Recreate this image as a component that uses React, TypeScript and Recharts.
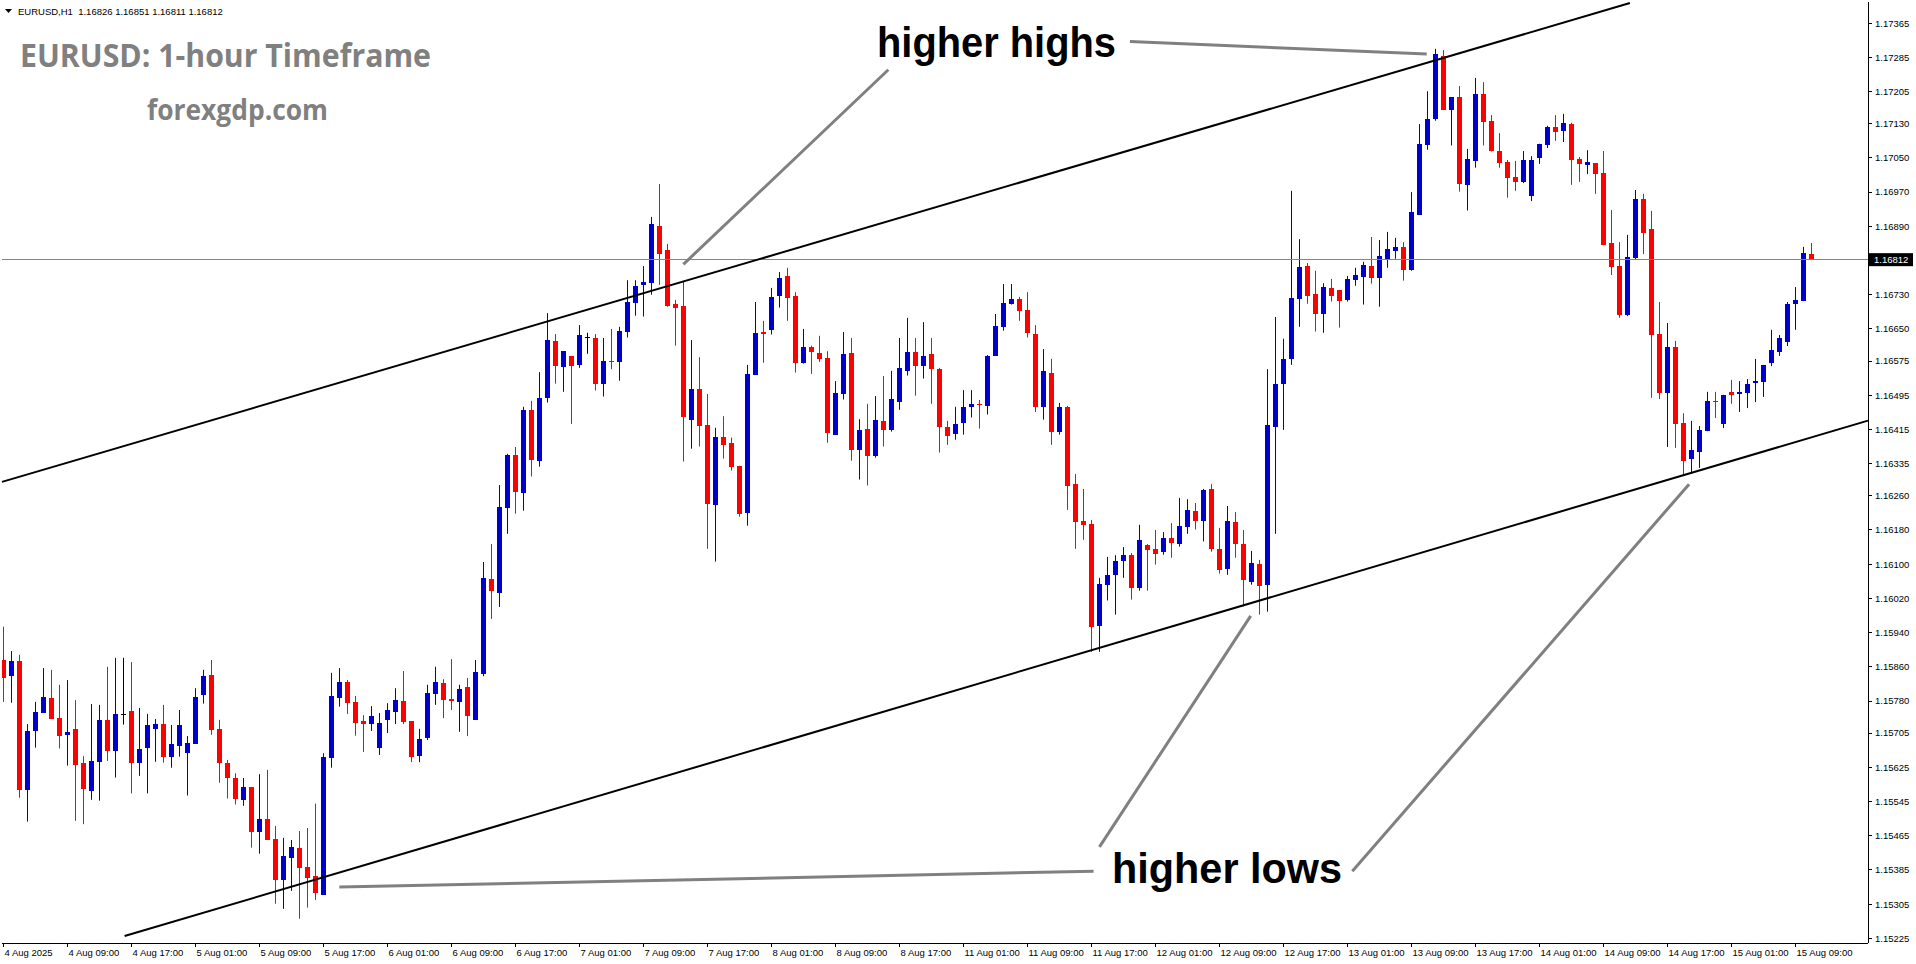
import React from 'react';
import { ComposedChart, Bar, XAxis, YAxis, ReferenceLine } from 'recharts';

// ---- data (EURUSD H1, 4 Aug 01:00 .. 15 Aug 11:00) ----
const opens = [
1.15876,1.15839,1.15874,1.15572,1.15711,1.15753,1.15787,1.15740,1.15701,1.15715,
1.15634,1.15570,1.15638,1.15736,1.15664,1.15749,1.15757,1.15636,1.15669,1.15715,
1.15726,1.15650,1.15676,1.15659,1.15680,1.15795,1.15841,1.15715,1.15635,1.15600,
1.15549,1.15579,1.15474,1.15504,1.15457,1.15362,1.15414,1.15436,1.15392,1.15371,
1.15327,1.15647,1.15788,1.15824,1.15778,1.15733,1.15726,1.15670,1.15736,1.15754,
1.15780,1.15733,1.15651,1.15694,1.15796,1.15822,1.15785,1.15778,1.15813,1.15736,
1.15843,1.16065,1.16033,1.16232,1.16355,1.16267,1.16460,1.16342,1.16489,1.16622,
1.16562,1.16587,1.16566,1.16632,1.16629,1.16522,1.16575,1.16573,1.16644,1.16711,
1.16753,1.16758,1.16891,1.16835,1.16708,1.16704,1.16438,1.16510,1.16425,1.16239,
1.16398,1.16383,1.16330,1.16220,1.16543,1.16643,1.16648,1.16728,1.16774,1.16727,
1.16571,1.16608,1.16594,1.16582,1.16403,1.16499,1.16594,1.16368,1.16416,1.16354,
1.16435,1.16414,1.16480,1.16552,1.16596,1.16564,1.16591,1.16557,1.16421,1.16405,
1.16431,1.16468,1.16475,1.16471,1.16587,1.16655,1.16709,1.16720,1.16694,1.16638,
1.16468,1.16547,1.16410,1.16468,1.16287,1.16201,1.16194,1.15956,1.16052,1.16075,
1.16108,1.16121,1.16045,1.16145,1.16135,1.16129,1.16161,1.16148,1.16188,1.16224,
1.16202,1.16276,1.16135,1.16089,1.16199,1.16147,1.16059,1.16100,1.16052,1.16421,
1.16522,1.16580,1.16721,1.16797,1.16732,1.16686,1.16746,1.16741,1.16718,1.16765,
1.16772,1.16797,1.16768,1.16814,1.16833,1.16842,1.16789,1.16917,1.17079,1.17140,
1.17288,1.17163,1.17192,1.16987,1.17043,1.17199,1.17136,1.17066,1.17040,1.17005,
1.16994,1.16961,1.17050,1.17080,1.17122,1.17113,1.17129,1.17047,1.17033,1.17038,
1.17015,1.16851,1.16797,1.16683,1.16816,1.16954,1.16884,1.16638,1.16500,1.16608,
1.16430,1.16346,1.16362,1.16411,1.16482,1.16428,1.16503,1.16498,1.16500,1.16524,
1.16526,1.16570,1.16596,1.16620,1.16708,1.16715,1.16826];

const highs = [
1.15954,1.15897,1.15888,1.15726,1.15778,1.15857,1.15853,1.15818,1.15829,1.15782,
1.15651,1.15773,1.15771,1.15860,1.15881,1.15881,1.15871,1.15764,1.15750,1.15738,
1.15771,1.15724,1.15759,1.15698,1.15810,1.15853,1.15876,1.15736,1.15642,1.15611,
1.15600,1.15579,1.15609,1.15619,1.15488,1.15460,1.15455,1.15476,1.15483,1.15540,
1.15658,1.15846,1.15857,1.15829,1.15792,1.15747,1.15768,1.15752,1.15775,1.15810,
1.15850,1.15733,1.15715,1.15818,1.15860,1.15831,1.15878,1.15818,1.15834,1.15876,
1.16105,1.16147,1.16285,1.16358,1.16374,1.16468,1.16482,1.16549,1.16687,1.16638,
1.16598,1.16587,1.16659,1.16641,1.16638,1.16629,1.16650,1.16655,1.16764,1.16764,
1.16797,1.16912,1.16989,1.16849,1.16718,1.16762,1.16624,1.16584,1.16498,1.16419,
1.16446,1.16396,1.16330,1.16566,1.16713,1.16669,1.16746,1.16783,1.16793,1.16736,
1.16650,1.16611,1.16634,1.16598,1.16528,1.16643,1.16629,1.16439,1.16475,1.16493,
1.16540,1.16552,1.16629,1.16676,1.16629,1.16666,1.16629,1.16559,1.16435,1.16468,
1.16507,1.16507,1.16484,1.16589,1.16685,1.16755,1.16755,1.16725,1.16736,1.16659,
1.16603,1.16580,1.16477,1.16470,1.16311,1.16276,1.16203,1.16068,1.16117,1.16121,
1.16140,1.16126,1.16192,1.16147,1.16180,1.16175,1.16196,1.16255,1.16252,1.16243,
1.16276,1.16287,1.16185,1.16236,1.16222,1.16180,1.16131,1.16110,1.16556,1.16678,
1.16627,1.16973,1.16860,1.16804,1.16786,1.16757,1.16767,1.16741,1.16774,1.16793,
1.16807,1.16865,1.16858,1.16877,1.16863,1.16853,1.16970,1.17129,1.17206,1.17305,
1.17302,1.17192,1.17218,1.17071,1.17237,1.17227,1.17150,1.17108,1.17045,1.17043,
1.17066,1.17054,1.17083,1.17125,1.17150,1.17153,1.17132,1.17052,1.17068,1.17038,
1.17066,1.16928,1.16853,1.16870,1.16975,1.16966,1.16926,1.16713,1.16664,1.16622,
1.16453,1.16435,1.16423,1.16503,1.16503,1.16496,1.16531,1.16528,1.16533,1.16580,
1.16566,1.16648,1.16636,1.16713,1.16748,1.16842,1.16851];

const lows = [
1.15778,1.15776,1.15554,1.15498,1.15671,1.15753,1.15739,1.15669,1.15629,1.15500,
1.15492,1.15549,1.15547,1.15640,1.15601,1.15725,1.15564,1.15605,1.15564,1.15638,
1.15636,1.15624,1.15650,1.15559,1.15680,1.15774,1.15701,1.15589,1.15552,1.15538,
1.15535,1.15437,1.15423,1.15456,1.15306,1.15294,1.15336,1.15271,1.15297,1.15315,
1.15327,1.15624,1.15767,1.15750,1.15699,1.15661,1.15710,1.15654,1.15705,1.15726,
1.15726,1.15637,1.15637,1.15689,1.15771,1.15740,1.15759,1.15708,1.15698,1.15736,
1.15838,1.15972,1.16000,1.16171,1.16218,1.16225,1.16305,1.16328,1.16478,1.16522,
1.16503,1.16428,1.16559,1.16592,1.16506,1.16492,1.16556,1.16529,1.16630,1.16681,
1.16679,1.16730,1.16753,1.16702,1.16611,1.16340,1.16370,1.16375,1.16136,1.16106,
1.16347,1.16319,1.16211,1.16190,1.16543,1.16571,1.16637,1.16700,1.16669,1.16548,
1.16569,1.16545,1.16573,1.16384,1.16403,1.16485,1.16342,1.16298,1.16284,1.16349,
1.16375,1.16410,1.16461,1.16541,1.16494,1.16534,1.16475,1.16361,1.16379,1.16391,
1.16403,1.16443,1.16417,1.16450,1.16587,1.16646,1.16707,1.16669,1.16630,1.16456,
1.16438,1.16379,1.16403,1.16227,1.16136,1.16157,1.15895,1.15895,1.16015,1.15982,
1.16068,1.16017,1.16038,1.16038,1.16099,1.16122,1.16115,1.16141,1.16171,1.16181,
1.16153,1.16129,1.16078,1.16075,1.16115,1.16001,1.16052,1.15982,1.15989,1.16171,
1.16414,1.16566,1.16655,1.16709,1.16644,1.16641,1.16714,1.16653,1.16714,1.16751,
1.16707,1.16756,1.16702,1.16793,1.16814,1.16763,1.16786,1.16917,1.17069,1.17137,
1.17163,1.17079,1.16971,1.16927,1.17027,1.17079,1.17065,1.17027,1.16957,1.16973,
1.16991,1.16949,1.17036,1.17073,1.17090,1.17087,1.16987,1.16994,1.17012,1.16966,
1.16846,1.16776,1.16676,1.16680,1.16811,1.16825,1.16489,1.16486,1.16374,1.16372,
1.16306,1.16311,1.16325,1.16411,1.16442,1.16418,1.16475,1.16456,1.16465,1.16479,
1.16491,1.16563,1.16587,1.16610,1.16648,1.16715,1.16811];

const closes = [
1.15835,1.15874,1.15572,1.15710,1.15754,1.15789,1.15739,1.15699,1.15708,1.15631,
1.15575,1.15640,1.15736,1.15664,1.15750,1.15749,1.15636,1.15668,1.15724,1.15726,
1.15650,1.15680,1.15724,1.15682,1.15789,1.15838,1.15713,1.15636,1.15601,1.15552,
1.15579,1.15474,1.15504,1.15456,1.15362,1.15418,1.15439,1.15390,1.15367,1.15332,
1.15649,1.15792,1.15824,1.15776,1.15729,1.15726,1.15745,1.15729,1.15759,1.15782,
1.15731,1.15649,1.15691,1.15799,1.15824,1.15782,1.15780,1.15808,1.15745,1.15848,
1.16068,1.16037,1.16234,1.16355,1.16269,1.16461,1.16344,1.16489,1.16624,1.16564,
1.16598,1.16564,1.16636,1.16632,1.16522,1.16575,1.16573,1.16645,1.16713,1.16750,
1.16760,1.16895,1.16826,1.16704,1.16700,1.16443,1.16510,1.16424,1.16241,1.16398,
1.16379,1.16328,1.16218,1.16545,1.16641,1.16639,1.16725,1.16769,1.16723,1.16571,
1.16608,1.16595,1.16580,1.16407,1.16501,1.16591,1.16368,1.16414,1.16354,1.16438,
1.16414,1.16486,1.16559,1.16596,1.16564,1.16587,1.16557,1.16421,1.16400,1.16428,
1.16468,1.16475,1.16473,1.16587,1.16657,1.16711,1.16720,1.16693,1.16641,1.16468,
1.16552,1.16410,1.16468,1.16283,1.16199,1.16192,1.15954,1.16054,1.16075,1.16107,
1.16121,1.16045,1.16157,1.16134,1.16124,1.16161,1.16150,1.16189,1.16227,1.16202,
1.16273,1.16136,1.16087,1.16201,1.16146,1.16064,1.16103,1.16050,1.16425,1.16521,
1.16580,1.16722,1.16795,1.16728,1.16686,1.16748,1.16728,1.16716,1.16767,1.16776,
1.16800,1.16768,1.16821,1.16837,1.16842,1.16789,1.16923,1.17083,1.17141,1.17293,
1.17163,1.17192,1.16990,1.17047,1.17199,1.17135,1.17065,1.17039,1.17004,1.16994,
1.17045,1.17045,1.17083,1.17122,1.17111,1.17132,1.17045,1.17036,1.17040,1.17012,
1.16846,1.16795,1.16683,1.16818,1.16954,1.16874,1.16636,1.16500,1.16608,1.16428,
1.16341,1.16367,1.16414,1.16482,1.16479,1.16496,1.16496,1.16503,1.16521,1.16528,
1.16566,1.16601,1.16629,1.16708,1.16718,1.16828,1.16812];

const timeLabels = [
'4 Aug 2025','4 Aug 09:00','4 Aug 17:00','5 Aug 01:00','5 Aug 09:00','5 Aug 17:00',
'6 Aug 01:00','6 Aug 09:00','6 Aug 17:00','7 Aug 01:00','7 Aug 09:00','7 Aug 17:00',
'8 Aug 01:00','8 Aug 09:00','8 Aug 17:00','11 Aug 01:00','11 Aug 09:00','11 Aug 17:00',
'12 Aug 01:00','12 Aug 09:00','12 Aug 17:00','13 Aug 01:00','13 Aug 09:00','13 Aug 17:00',
'14 Aug 01:00','14 Aug 09:00','14 Aug 17:00','15 Aug 01:00','15 Aug 09:00'];

const priceTicks = [
1.17365,1.17285,1.17205,1.17130,1.17050,1.16970,1.16890,1.16730,1.16650,1.16575,
1.16495,1.16415,1.16335,1.16260,1.16180,1.16100,1.16020,1.15940,1.15860,1.15780,
1.15705,1.15625,1.15545,1.15465,1.15385,1.15305,1.15225];

const currentPrice = 1.16812;

// trend channel & annotation pointers (bar index, price)
const upperChannel = [{ x: -0.1875, y: 1.162924 }, { x: 203.3, y: 1.17412 }];
const lowerChannel = [{ x: 15.14, y: 1.152305 }, { x: 233.06, y: 1.164356 }];
const pointerLines = [
  [{ x: 110.6, y: 1.17256 }, { x: 84.98, y: 1.16801 }],
  [{ x: 140.8, y: 1.17322 }, { x: 177.9, y: 1.17293 }],
  [{ x: 41.98, y: 1.15345 }, { x: 136.26, y: 1.15382 }],
  [{ x: 137.0, y: 1.15439 }, { x: 155.9, y: 1.15979 }],
  [{ x: 168.6, y: 1.15382 }, { x: 210.7, y: 1.16287 }],
];

const data = opens.map((o, i) => ({
  i, o, h: highs[i], l: lows[i], c: closes[i], range: [lows[i], highs[i]],
}));

const X_DOMAIN: [number, number] = [-0.1875, 233.0625];
const Y_DOMAIN: [number, number] = [1.152142, 1.174145];
const tickIdx = timeLabels.map((_, k) => k * 8);
const AXIS_FONT = "'Liberation Sans', Arial, sans-serif";

const Candle = (props: any) => {
  const { x, y, width, height, payload } = props;
  if (!payload || x == null) return null;
  const { o, h, l, c } = payload;
  const top = Math.min(y, y + height);
  const hgt = Math.abs(height);
  const span = h - l;
  const toY = (v: number) => (span === 0 ? top : top + ((h - v) / span) * hgt);
  const bTop = toY(Math.max(o, c));
  const bBot = toY(Math.min(o, c));
  const color = o === c ? '#000000' : c > o ? '#0000CD' : '#FF0000';
  const left = Math.round(x);
  const cx = left + Math.floor(width / 2) + 0.5;
  return (
    <g>
      <line x1={cx} x2={cx} y1={top} y2={top + Math.max(hgt, 1)} stroke={color} strokeWidth={1} />
      <rect x={left} y={bTop} width={width} height={Math.max(bBot - bTop, 1)} fill={color} shapeRendering="crispEdges" />
    </g>
  );
};

const DateTick = (props: any) => {
  const { x, y, payload } = props;
  const label = timeLabels[Math.round(payload.value / 8)];
  return (
    <text x={x + 1} y={y} dy="0.71em" textAnchor="start" fontSize={9.5} fontFamily={AXIS_FONT} fill="#000">
      {label}
    </text>
  );
};

const PriceTag = (props: any) => {
  const vb = props.viewBox || {};
  const right = (vb.x || 0) + (vb.width || 0);
  const yy = vb.y || 0;
  return (
    <g>
      <rect x={right + 1} y={yy - 6.5} width={44} height={13} fill="#000" />
      <text x={right + 6} y={yy} dy="0.355em" fontSize={9.5} fontFamily={AXIS_FONT} fill="#fff">
        {currentPrice.toFixed(5)}
      </text>
    </g>
  );
};

export default function App() {
  return (
    <div style={{ position: 'absolute', left: 0, top: 0, width: 1916, height: 964, background: '#fff' }}>
      <ComposedChart
        width={1916}
        height={964}
        data={data}
        margin={{ top: 2, right: 2, bottom: 2, left: 2 }}
      >
        <XAxis
          dataKey="i"
          type="number"
          domain={X_DOMAIN}
          allowDataOverflow
          ticks={tickIdx}
          interval={0}
          tick={<DateTick />}
          tickSize={4}
          tickMargin={2}
          height={19}
          axisLine={{ stroke: '#000', shapeRendering: 'crispEdges' }}
          tickLine={{ stroke: '#000', shapeRendering: 'crispEdges' }}
        />
        <XAxis
          xAxisId="top"
          orientation="top"
          dataKey="i"
          type="number"
          domain={X_DOMAIN}
          allowDataOverflow
          ticks={[]}
          tick={false}
          tickLine={false}
          height={0}
          axisLine={{ stroke: '#000', shapeRendering: 'crispEdges' }}
        />
        <YAxis
          orientation="right"
          type="number"
          domain={Y_DOMAIN}
          allowDataOverflow
          ticks={priceTicks}
          interval={0}
          tickFormatter={(v: number) => v.toFixed(5)}
          width={46}
          tickSize={4}
          tickMargin={3}
          tick={{ fontSize: 9.5, fill: '#000', fontFamily: AXIS_FONT }}
          axisLine={{ stroke: '#000', shapeRendering: 'crispEdges' }}
          tickLine={{ stroke: '#000', shapeRendering: 'crispEdges' }}
        />
        <YAxis
          yAxisId="left"
          orientation="left"
          type="number"
          domain={Y_DOMAIN}
          allowDataOverflow
          ticks={[]}
          tick={false}
          tickLine={false}
          width={0}
          axisLine={{ stroke: '#000', shapeRendering: 'crispEdges' }}
        />
        <ReferenceLine y={currentPrice} stroke="#778899" strokeWidth={1} ifOverflow="visible"
          shapeRendering="crispEdges" label={<PriceTag />} />
        <Bar dataKey="range" barSize={5} shape={<Candle />} isAnimationActive={false} />
        <ReferenceLine segment={upperChannel} stroke="#000" strokeWidth={2} ifOverflow="visible" />
        <ReferenceLine segment={lowerChannel} stroke="#000" strokeWidth={2} ifOverflow="visible" />
        {pointerLines.map((seg, k) => (
          <ReferenceLine key={k} segment={seg} stroke="#808080" strokeWidth={3} ifOverflow="visible" />
        ))}
      </ComposedChart>
      <svg
        width={1916}
        height={964}
        style={{ position: 'absolute', left: 0, top: 0, pointerEvents: 'none' }}
      >
        <path d="M5 9 L12 9 L8.5 13 Z" fill="#000" />
        <text x={18} y={14.5} fontSize={9.5} fontFamily={AXIS_FONT} fill="#000" style={{ whiteSpace: 'pre' }}>
          {'EURUSD,H1  1.16826 1.16851 1.16811 1.16812'}
        </text>
        <text x={20} y={66.5} fontSize={32} fontWeight={700} fontFamily="'Open Sans', sans-serif" fill="#808080"
          textLength={411} lengthAdjust="spacingAndGlyphs">
          EURUSD: 1-hour Timeframe
        </text>
        <text x={147} y={120} fontSize={28} fontWeight={700} fontFamily="'Open Sans', sans-serif" fill="#808080"
          textLength={181} lengthAdjust="spacingAndGlyphs">
          forexgdp.com
        </text>
        <text x={877} y={57} fontSize={42} fontWeight={700} fontFamily="'Liberation Sans Narrow', 'Liberation Sans', Arial, sans-serif"
          fill="#000" textLength={239} lengthAdjust="spacingAndGlyphs">
          higher highs
        </text>
        <text x={1112} y={883} fontSize={42} fontWeight={700} fontFamily="'Liberation Sans Narrow', 'Liberation Sans', Arial, sans-serif"
          fill="#000" textLength={230} lengthAdjust="spacingAndGlyphs">
          higher lows
        </text>
      </svg>
    </div>
  );
}
